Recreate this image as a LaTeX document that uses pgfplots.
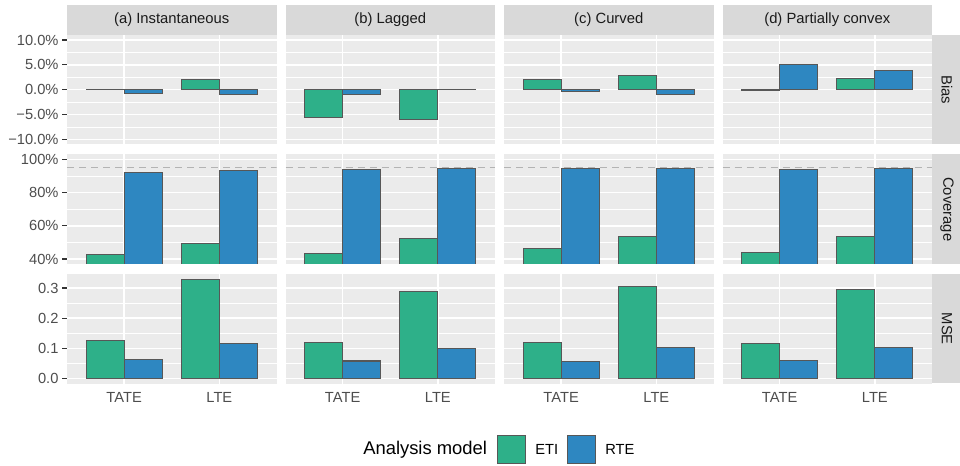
\documentclass[border=0pt]{standalone}
\usepackage{pgfplots}
\pgfplotsset{compat=1.18}
\usepackage{pgfplotstable}
\usepackage{fontspec}
\setmainfont{Liberation Sans}

\definecolor{eti}{HTML}{2EB089}
\definecolor{rte}{HTML}{2E87C1}
\definecolor{panelbg}{HTML}{EBEBEB}
\definecolor{stripbg}{HTML}{D9D9D9}
\definecolor{tickgray}{HTML}{4D4D4D}
\definecolor{tickmark}{HTML}{333333}
\definecolor{striptext}{HTML}{1A1A1A}
\definecolor{barline}{HTML}{575757}
\definecolor{refgray}{HTML}{B3B3B3}

% columns: x, bias ETI, bias RTE (%), coverage ETI, coverage RTE (%), MSE ETI, MSE RTE
\pgfplotstableread{
x bETI bRTE cETI cRTE mETI mRTE
1 0.10 -0.67 42.6 92.4 0.1256 0.0645
2 2.00 -1.00 49.4 93.6 0.3280 0.1150
}\tabA
\pgfplotstableread{
x bETI bRTE cETI cRTE mETI mRTE
1 -5.67 -0.87 43.6 94.0 0.1190 0.0580
2 -6.00 0.05 52.4 94.8 0.2875 0.1006
}\tabB
\pgfplotstableread{
x bETI bRTE cETI cRTE mETI mRTE
1 2.00 -0.27 46.6 94.6 0.1190 0.0568
2 2.80 -0.93 53.6 94.8 0.3050 0.1016
}\tabC
\pgfplotstableread{
x bETI bRTE cETI cRTE mETI mRTE
1 -0.15 5.00 44.2 94.0 0.1160 0.0590
2 2.33 3.80 53.8 94.8 0.2940 0.1016
}\tabD

\newcommand\tickfont{\fontsize{11}{13}\selectfont}
\newcommand\stripfont{\fontsize{11.1}{13}\selectfont}

\pgfplotsset{
  panel/.style={
    scale only axis, width=157.125pt, height=82.125pt, anchor=north west,
    xmin=0.4, xmax=2.6, xtick={1,2}, minor xtick={},
    axis background/.style={fill=panelbg},
    axis line style={draw=none},
    xmajorgrids, ymajorgrids, yminorgrids,
    major grid style={white, line width=1.1pt},
    minor grid style={white, line width=0.55pt},
    tick align=outside, xtick pos=bottom, ytick pos=left,
    tick style={tickmark, line width=0.8pt},
    major tick length=3.4pt, minor tick length=0pt,
    ticklabel style={font=\tickfont, text=tickgray},
    yticklabel style={inner sep=0pt, xshift=-2.8pt},
    xticklabel style={inner sep=0pt, yshift=-3pt},
    xticklabels={}, xtick style={draw=none},
  },
  biasaxis/.style={ymin=-11, ymax=11, ytick={-10,-5,0,5,10},
    minor ytick={-7.5,-2.5,2.5,7.5},
    yticklabels={−10.0\%,−5.0\%,0.0\%,5.0\%,10.0\%}},
  covaxis/.style={ymin=37, ymax=103, ytick={40,60,80,100},
    minor ytick={50,70,90},
    yticklabels={40\%,60\%,80\%,100\%}},
  mseaxis/.style={ymin=-0.0165, ymax=0.3465, ytick={0,0.1,0.2,0.3},
    minor ytick={0.05,0.15,0.25},
    yticklabels={0.0,0.1,0.2,0.3}},
  hidey/.style={yticklabels={}, ytick style={draw=none}},
  showx/.style={xticklabels={TATE,LTE}, xtick style={tickmark, line width=0.8pt}},
  etibar/.style={ybar, bar width=0.4, bar shift=-0.2, fill=eti, draw=barline, line width=0.8pt},
  rtebar/.style={ybar, bar width=0.4, bar shift=0.2, fill=rte, draw=barline, line width=0.8pt},
  refline/.style={refgray, line width=1pt, dash pattern=on 5.5pt off 3.5pt},
}

\newcommand\panelcol[3]{%
  \begin{axis}[panel, at={(#1,-26.25pt)}, biasaxis, #3]
    \addplot[etibar] table[x=x,y=bETI]{#2};
    \addplot[rtebar] table[x=x,y=bRTE]{#2};
  \end{axis}
  % coverage: background/grid/ticks, then bars drawn from 0 and clipped to the panel
  \begin{axis}[panel, at={(#1,-115.875pt)}, covaxis, #3]
  \end{axis}
  \begin{scope}
    \clip (#1,-115.875pt) rectangle ++(157.125pt,-82.125pt);
    \begin{axis}[scale only axis, width=157.125pt, height=128.1648pt,
        anchor=north west, at={(#1,-115.875pt)},
        xmin=0.4, xmax=2.6, ymin=0, ymax=103, hide axis]
      \addplot[etibar] table[x=x,y=cETI]{#2};
      \addplot[rtebar] table[x=x,y=cRTE]{#2};
      \addplot[refline] coordinates {(0.4,95) (2.6,95)};
    \end{axis}
  \end{scope}
  \begin{axis}[panel, at={(#1,-205.5pt)}, mseaxis, #3, showx]
    \addplot[etibar] table[x=x,y=mETI]{#2};
    \addplot[rtebar] table[x=x,y=mRTE]{#2};
  \end{axis}
}

\begin{document}
\begin{tikzpicture}
\useasboundingbox (0,0) rectangle (720pt,-349.5pt);

\panelcol{50.25pt}{\tabA}{}
\panelcol{214.125pt}{\tabB}{hidey}
\panelcol{378pt}{\tabC}{hidey}
\panelcol{541.875pt}{\tabD}{hidey}

% top strips
\foreach \L/\lab in {50.25/{(a) Instantaneous}, 214.125/{(b) Lagged}, 378/{(c) Curved}, 541.875/{(d) Partially convex}}{
  \fill[stripbg] (\L pt,-3.75pt) rectangle ++(157.125pt,-22.5pt);
  \node[font=\stripfont, text=striptext, inner sep=0pt] at ({\L pt+78.5625pt},-15pt) {\lab};
}
% right strips
\foreach \T/\lab in {26.25/Bias, 115.875/Coverage, 205.5/MSE}{
  \fill[stripbg] (699pt,-\T pt) rectangle (720pt,{-\T pt-82.125pt});
  \node[font=\stripfont, text=striptext, inner sep=0pt, rotate=-90] at (710.25pt,{-\T pt-41.0625pt}) {\lab};
}

% legend
\node[anchor=west, inner sep=0pt, font=\fontsize{13.8}{16}\selectfont] at (272.25pt,-337.1pt) {Analysis model};
\filldraw[fill=eti, draw=barline, line width=0.8pt] (373.1pt,-326.5pt) rectangle (394.1pt,-347.8pt);
\node[anchor=west, inner sep=0pt, font=\fontsize{11}{13}\selectfont] at (401.25pt,-337.1pt) {ETI};
\filldraw[fill=rte, draw=barline, line width=0.8pt] (425.6pt,-326.5pt) rectangle (446.6pt,-347.8pt);
\node[anchor=west, inner sep=0pt, font=\fontsize{11}{13}\selectfont] at (453.75pt,-337.1pt) {RTE};
\end{tikzpicture}
\end{document}
